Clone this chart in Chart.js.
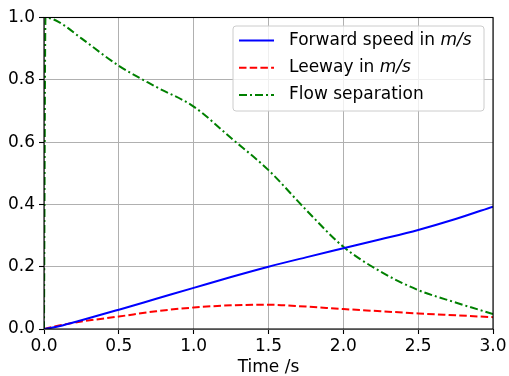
<!DOCTYPE html>
<html>
<head>
<meta charset="utf-8">
<script src="https://cdn.jsdelivr.net/npm/chart.js@4"></script>
<style>
html,body{margin:0;padding:0;background:#fff;}
#wrap{width:509px;height:376px;position:relative;}
</style>
</head>
<body>
<div id="wrap"><canvas id="c" width="509" height="376"></canvas></div>
<script>
// ---- data ----
const times = [0, 0.01, 0.1, 0.25, 0.5, 0.75, 1.0, 1.25, 1.5, 1.75, 2.0, 2.25, 2.5, 2.75, 3.0];
const forwardSpeed = [0, 0.0005, 0.009, 0.028, 0.062, 0.097, 0.132, 0.167, 0.200, 0.230, 0.259, 0.288, 0.318, 0.353, 0.393];
const leeway = [0, 0.001, 0.011, 0.024, 0.040, 0.057, 0.069, 0.076, 0.078, 0.072, 0.064, 0.057, 0.050, 0.044, 0.038];
const flowSeparation = [0, 1.0, 0.985, 0.933, 0.845, 0.777, 0.714, 0.613, 0.51, 0.383, 0.264, 0.184, 0.125, 0.085, 0.048];
const seriesLabels = ['Forward speed in m/s', 'Leeway in m/s', 'Flow separation'];
const xTicks = [0, 0.5, 1.0, 1.5, 2.0, 2.5, 3.0];
const yTicks = [0, 0.2, 0.4, 0.6, 0.8, 1.0];
const xTitle = 'Time /s';

const FONT = "'DejaVu Sans', sans-serif";
const pts = arr => arr.map((v, i) => ({x: times[i], y: v}));

const frameAndLegend = {
  id: 'frameAndLegend',
  afterDatasetsDraw(chart) {
    const ctx = chart.ctx, ca = chart.chartArea;
    ctx.save();
    ctx.strokeStyle = '#000';
    ctx.lineWidth = 1.1;
    ctx.strokeRect(ca.left, ca.top, ca.right - ca.left, ca.bottom - ca.top);

    // legend box
    const w = 251, h = 85;
    const bx = ca.right - 9 - w, by = ca.top + 8.5;
    const r = 3;
    ctx.beginPath();
    ctx.moveTo(bx + r, by);
    ctx.arcTo(bx + w, by, bx + w, by + h, r);
    ctx.arcTo(bx + w, by + h, bx, by + h, r);
    ctx.arcTo(bx, by + h, bx, by, r);
    ctx.arcTo(bx, by, bx + w, by, r);
    ctx.closePath();
    ctx.fillStyle = 'rgba(255,255,255,0.8)';
    ctx.fill();
    ctx.strokeStyle = '#cccccc';
    ctx.lineWidth = 1;
    ctx.stroke();

    chart.data.datasets.forEach((ds, i) => {
      const cy = by + 14.5 + i * 27.2;
      ctx.beginPath();
      ctx.setLineDash(ds.borderDash || []);
      ctx.strokeStyle = ds.borderColor;
      ctx.lineWidth = ds.borderWidth;
      ctx.moveTo(bx + 6, cy);
      ctx.lineTo(bx + 41, cy);
      ctx.stroke();
      ctx.setLineDash([]);
      ctx.fillStyle = '#000';
      ctx.textBaseline = 'middle';
      ctx.textAlign = 'left';
      let tx = bx + 56;
      const label = ds.label;
      const idx = label.indexOf('m/s');
      const parts = idx >= 0 ? [[label.slice(0, idx), false], ['m/s', true]] : [[label, false]];
      parts.forEach(([t, it]) => {
        ctx.font = (it ? 'italic ' : '') + '17px ' + FONT;
        ctx.fillText(t, tx, cy);
        tx += ctx.measureText(t).width;
      });
    });
    ctx.restore();
  }
};

new Chart(document.getElementById('c'), {
  type: 'line',
  data: {
    datasets: [
      {label: seriesLabels[0], data: pts(forwardSpeed), borderColor: '#0000ff', borderWidth: 2, pointRadius: 0, fill: false, cubicInterpolationMode: 'monotone'},
      {label: seriesLabels[1], data: pts(leeway), borderColor: '#ff0000', borderWidth: 2, borderDash: [7.5, 3.2], pointRadius: 0, fill: false, cubicInterpolationMode: 'monotone'},
      {label: seriesLabels[2], data: pts(flowSeparation), borderColor: '#008000', borderWidth: 2, borderDash: [8, 3, 2, 3], pointRadius: 0, fill: false, cubicInterpolationMode: 'monotone'}
    ]
  },
  options: {
    responsive: false,
    animation: false,
    devicePixelRatio: 1,
    layout: {padding: {left: 0, top: 17.5, right: 16, bottom: 0}},
    plugins: {legend: {display: false}, tooltip: {enabled: false}, title: {display: false}},
    scales: {
      x: {
        type: 'linear', min: 0, max: 3,
        afterBuildTicks: s => { s.ticks = xTicks.map(v => ({value: v})); },
        afterFit: s => { s.height = 47; },
        border: {display: false},
        grid: {color: '#b0b0b0', lineWidth: 1, tickColor: '#000', tickLength: 5, tickWidth: 1.1},
        ticks: {color: '#000', font: {family: FONT, size: 17}, padding: 2, maxRotation: 0, callback: v => v.toFixed(1)},
        title: {display: true, text: xTitle, color: '#000', font: {family: FONT, size: 17}, padding: {top: 0, bottom: -2}}
      },
      y: {
        type: 'linear', min: 0, max: 1,
        afterBuildTicks: s => { s.ticks = yTicks.map(v => ({value: v})); },
        afterFit: s => { s.width = 44; },
        border: {display: false},
        grid: {color: '#b0b0b0', lineWidth: 1, tickColor: '#000', tickLength: 5, tickWidth: 1.1},
        ticks: {color: '#000', font: {family: FONT, size: 17}, padding: 4, callback: v => v.toFixed(1)}
      }
    }
  },
  plugins: [frameAndLegend]
});
</script>
</body>
</html>
